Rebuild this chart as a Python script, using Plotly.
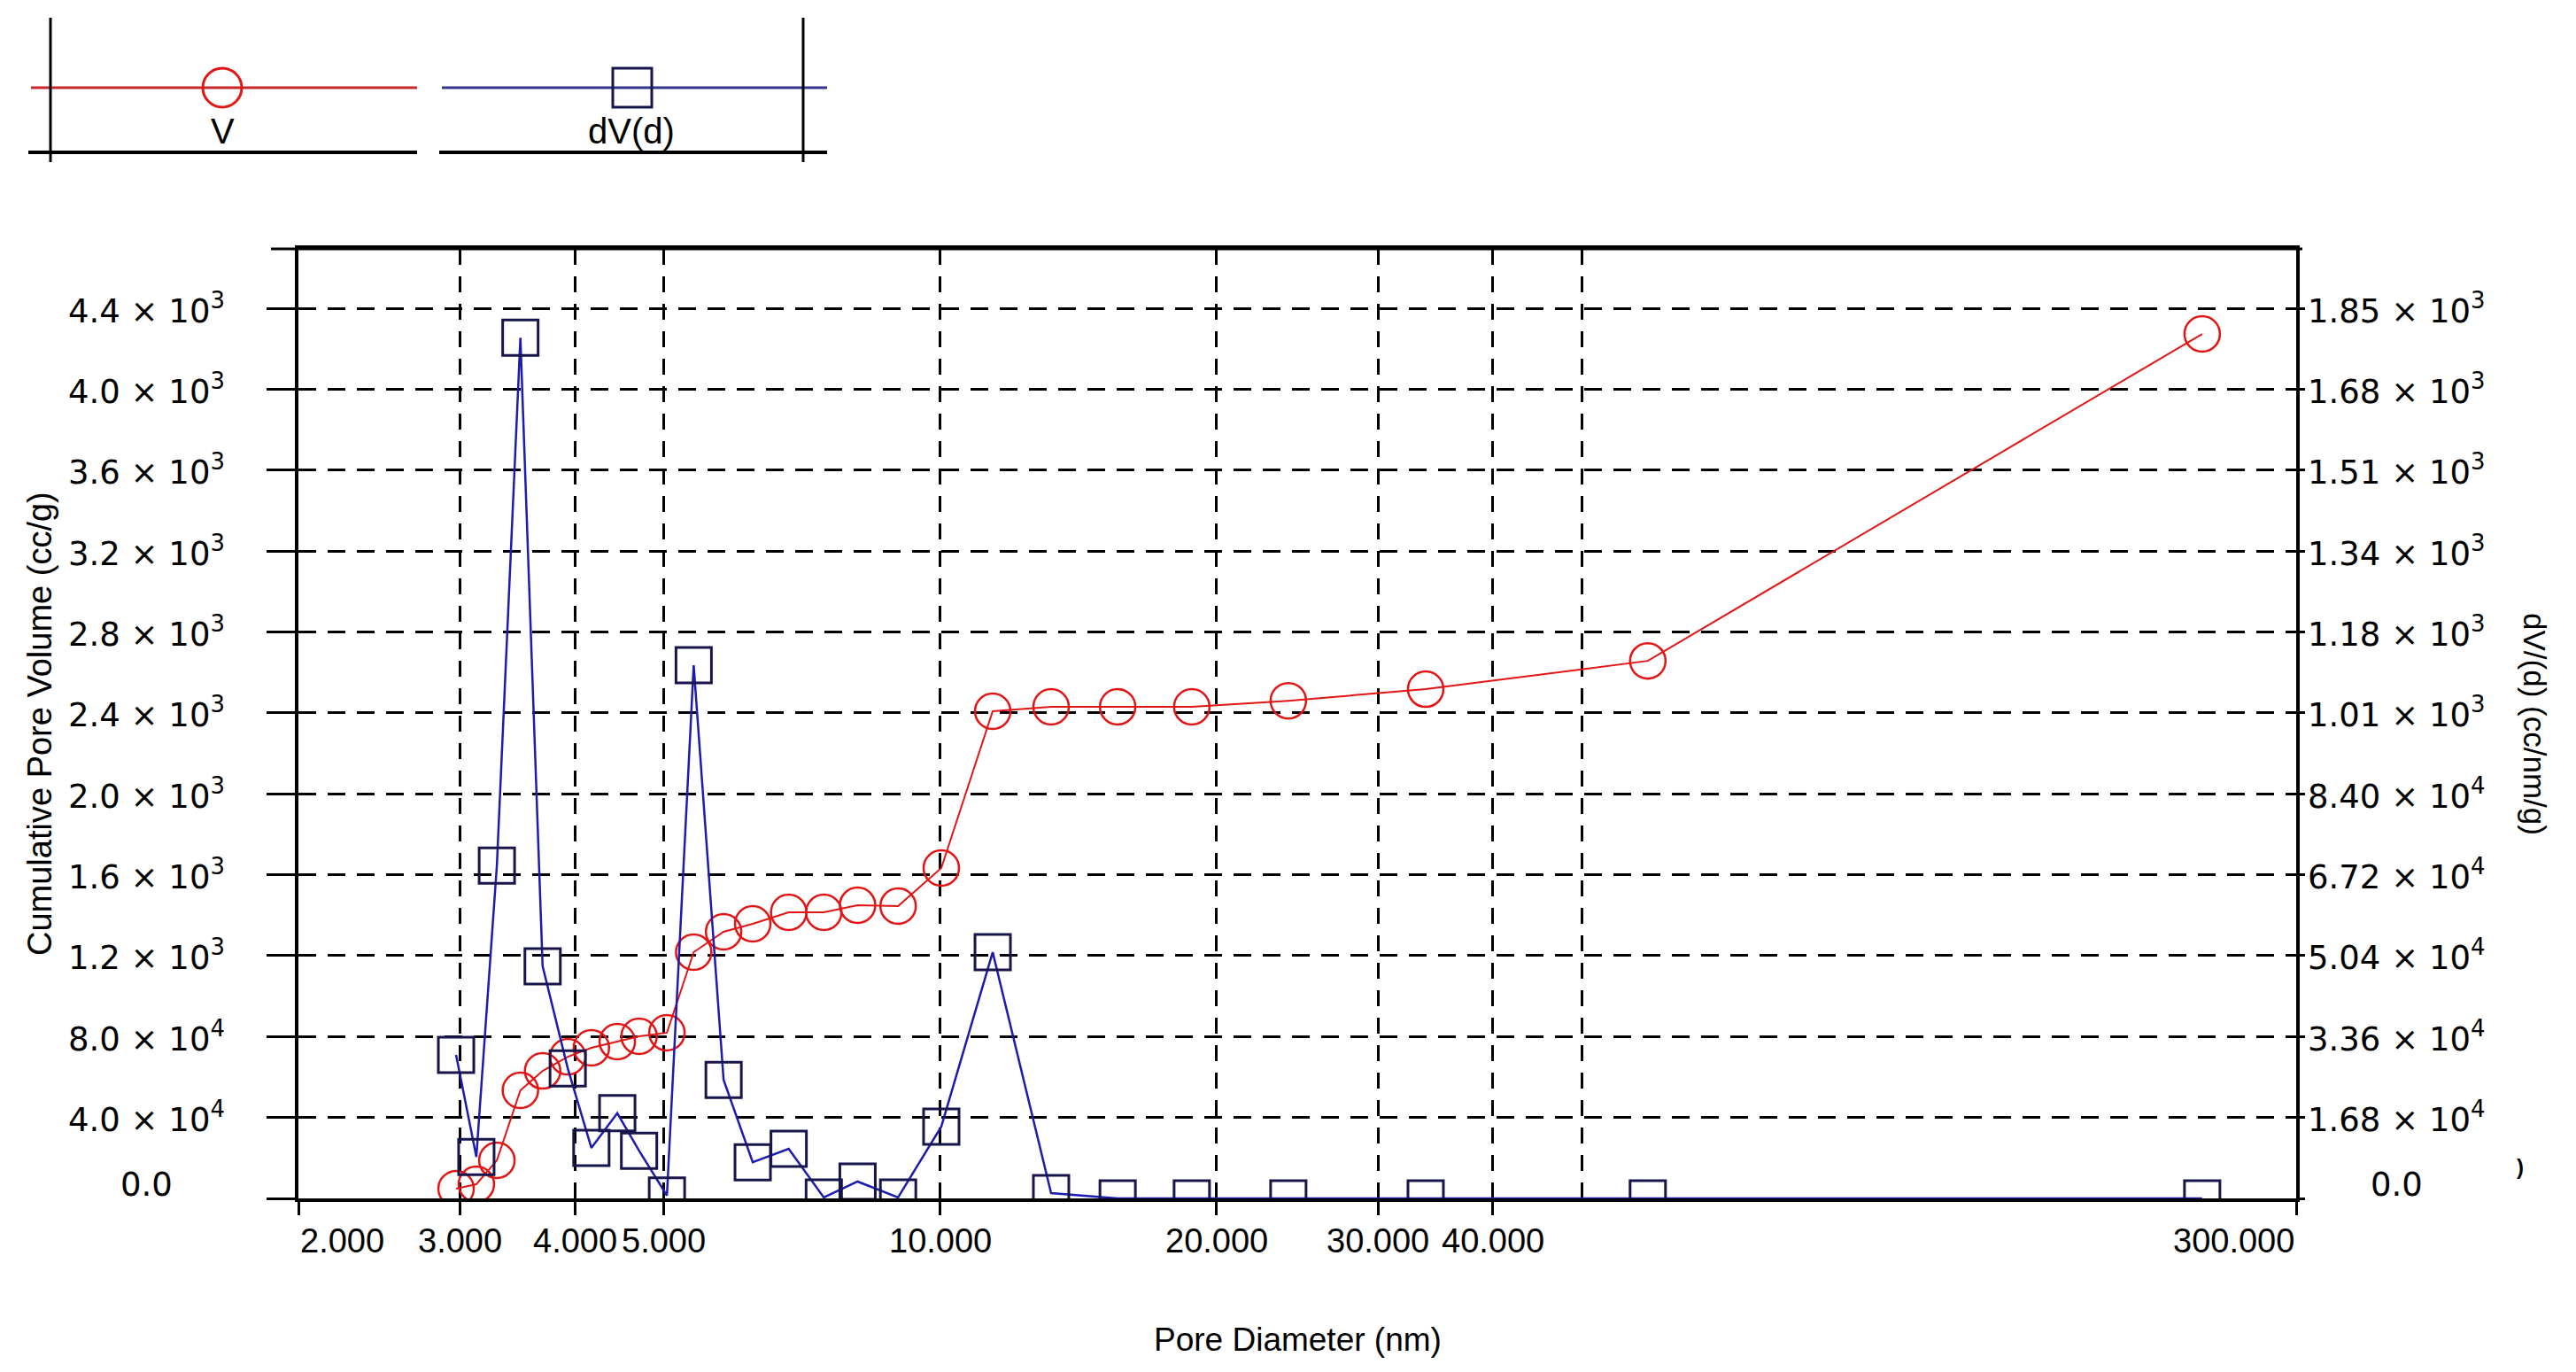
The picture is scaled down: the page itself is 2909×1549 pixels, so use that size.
import math
import plotly.graph_objects as go

# Pore size distribution
pore_diameter = [2.97, 3.125, 3.29, 3.49, 3.69, 3.93, 4.17, 4.45, 4.70, 5.04,
                 5.39, 5.81, 6.25, 6.84, 7.47, 8.13, 9.00, 10.03, 11.41, 13.21,
                 15.61, 18.80, 23.95, 33.8, 59.0, 237.0]
cum_volume = [48, 70, 188, 534, 630, 700, 744, 775, 801, 819,
              1217, 1318, 1357, 1414, 1414, 1449, 1445, 1633, 2408, 2430,
              2430, 2430, 2460, 2517, 2657, 4273]
dv_d = [298, 86, 691, 1787, 482, 270, 105, 177, 99, 6,
        1107, 246, 75, 103, 2, 35, 2, 149, 511, 11,
        0, 0, 0, 0, 0, 0]

x_tick_vals = [2, 3, 4, 5, 10, 20, 30, 40, 300]
x_tick_text = ["2.000", "3.000", "4.000", "5.000", "10.000", "20.000",
               "30.000", "40.000", "300.000"]
x_extra_grid = [50]

left_tick_vals = [0, 400, 800, 1200, 1600, 2000, 2400, 2800, 3200, 3600, 4000, 4400]
left_tick_text = ["0.0", "4.0 × 10<sup>4</sup>", "8.0 × 10<sup>4</sup>",
                  "1.2 × 10<sup>3</sup>", "1.6 × 10<sup>3</sup>", "2.0 × 10<sup>3</sup>",
                  "2.4 × 10<sup>3</sup>", "2.8 × 10<sup>3</sup>", "3.2 × 10<sup>3</sup>",
                  "3.6 × 10<sup>3</sup>", "4.0 × 10<sup>3</sup>", "4.4 × 10<sup>3</sup>"]
right_tick_vals = [0, 168, 336, 504, 672, 840, 1008, 1176, 1344, 1512, 1680, 1848]
right_tick_text = ["0.0", "1.68 × 10<sup>4</sup>", "3.36 × 10<sup>4</sup>",
                   "5.04 × 10<sup>4</sup>", "6.72 × 10<sup>4</sup>", "8.40 × 10<sup>4</sup>",
                   "1.01 × 10<sup>3</sup>", "1.18 × 10<sup>3</sup>", "1.34 × 10<sup>3</sup>",
                   "1.51 × 10<sup>3</sup>", "1.68 × 10<sup>3</sup>", "1.85 × 10<sup>3</sup>"]

RED = "#e31414"
BLUE = "#1c1cb0"
NAVY = "#16164c"

# page is 2909x1549, body has an 8px margin
W, H = 2893, 1533
PL, PT, PR, PB = 337, 281, 2593, 1353   # plot area in page pixels


def px(x):
    return (x - PL) / (PR - PL)


def py(y):
    return (PB - y) / (PB - PT)


fig = go.Figure()

fig.add_trace(go.Scatter(
    x=pore_diameter, y=cum_volume, name="V", mode="lines+markers",
    line=dict(color=RED, width=2),
    marker=dict(symbol="circle-open", size=40, color=RED, line=dict(width=2.5)),
    yaxis="y",
))
fig.add_trace(go.Scatter(
    x=pore_diameter, y=dv_d, name="dV(d)", mode="lines+markers",
    line=dict(color=BLUE, width=2.5),
    marker=dict(symbol="square-open", size=40, color=NAVY, line=dict(width=3)),
    yaxis="y2",
))

grid = dict(showgrid=True, gridcolor="black", gridwidth=3)

fig.update_layout(
    width=W, height=H,
    margin=dict(l=PL - 8, t=PT - 8, r=W - (PR - 8), b=H - (PB - 8)),
    paper_bgcolor="white", plot_bgcolor="white",
    showlegend=False,
    font=dict(family="Liberation Sans", color="black", size=38),
    xaxis=dict(
        type="log", range=[math.log10(2), math.log10(300)],
        tickmode="array", tickvals=x_tick_vals, showticklabels=False,
        ticks="outside", ticklen=15, tickwidth=3, tickcolor="black",
        showline=True, linewidth=4, linecolor="black", mirror=True,
        griddash="18px,13px", zeroline=False,
        minor=dict(tickmode="array", tickvals=x_extra_grid, ticks="",
                   showgrid=True, gridcolor="black", gridwidth=3, griddash="18px,13px"),
        **grid,
    ),
    yaxis=dict(
        range=[0, 4693.5], tickmode="array", tickvals=left_tick_vals,
        showticklabels=False, ticks="outside", ticklen=32, tickwidth=3,
        tickcolor="black", showline=True, linewidth=4, linecolor="black",
        griddash="20px,13px", zeroline=False, **grid,
    ),
    yaxis2=dict(
        overlaying="y", side="right", range=[0, 1971.3],
        tickmode="array", tickvals=right_tick_vals, showticklabels=False,
        ticks="outside", ticklen=6, tickwidth=3, tickcolor="black",
        showline=True, linewidth=4, linecolor="black",
        showgrid=False, zeroline=False,
    ),
)

tick_font = dict(family="DejaVu Sans", size=37, color="black")

# y tick labels, centred in their columns like the original
for v, t in zip(left_tick_vals, left_tick_text):
    fig.add_annotation(x=px(165), xref="paper", y=v, yref="y", text=t,
                       showarrow=False, xanchor="center", yanchor="middle",
                       yshift=16 if v == 0 else 0, font=tick_font)
for v, t in zip(right_tick_vals, right_tick_text):
    fig.add_annotation(x=px(2706), xref="paper", y=v, yref="y2", text=t,
                       showarrow=False, xanchor="center", yanchor="middle",
                       yshift=16 if v == 0 else 0, font=tick_font)

# x tick labels: first one left-aligned, last one right-aligned
for i, (v, t) in enumerate(zip(x_tick_vals, x_tick_text)):
    anchor = "left" if i == 0 else ("right" if i == len(x_tick_vals) - 1 else "center")
    fig.add_annotation(x=math.log10(v), xref="x", y=0, yref="paper", text=t,
                       showarrow=False, xanchor=anchor, yanchor="top", yshift=-25,
                       font=dict(family="Liberation Sans", size=38, color="black"))

# axis titles
fig.add_annotation(x=0.5, xref="paper", y=0, yref="paper", text="Pore Diameter (nm)",
                   showarrow=False, xanchor="center", yanchor="middle", yshift=-159,
                   font=dict(size=37))
fig.add_annotation(x=px(45), xref="paper", y=0.5, yref="paper",
                   text="Cumulative Pore Volume (cc/g)", textangle=-90,
                   showarrow=False, xanchor="center", yanchor="middle",
                   font=dict(size=38))
fig.add_annotation(x=px(2863), xref="paper", y=0.5, yref="paper",
                   text="dV/(d) (cc/nm/g)", textangle=90,
                   showarrow=False, xanchor="center", yanchor="middle",
                   font=dict(size=35))
fig.add_annotation(x=px(2852), xref="paper", y=py(1333), yref="paper", text="<b>)</b>",
                   showarrow=False, font=dict(size=24))

# top frame line runs a little past the left axis
fig.add_shape(type="line", xref="paper", yref="paper", x0=px(306), x1=px(2600),
              y0=1, y1=1, line=dict(color="black", width=3))

# hand-drawn legend box at the top left
def hline(x0, x1, y, color, width):
    fig.add_shape(type="line", xref="paper", yref="paper", x0=px(x0), x1=px(x1),
                  y0=py(y), y1=py(y), line=dict(color=color, width=width))


def vline(x, y0, y1):
    fig.add_shape(type="line", xref="paper", yref="paper", x0=px(x), x1=px(x),
                  y0=py(y0), y1=py(y1), line=dict(color="black", width=3))


hline(35, 471, 99, "#c62828", 3)
hline(499, 934, 99, "#34348c", 3)
hline(32, 471, 172, "black", 4)
hline(496, 934, 172, "black", 4)
vline(57, 20, 183)
vline(907, 20, 183)
fig.add_shape(type="circle", xref="paper", yref="paper",
              x0=px(229), x1=px(273), y0=py(121), y1=py(77),
              line=dict(color=RED, width=3))
fig.add_shape(type="rect", xref="paper", yref="paper",
              x0=px(692), x1=px(736), y0=py(121), y1=py(77),
              line=dict(color=NAVY, width=3))
fig.add_annotation(x=px(251), xref="paper", y=py(148), yref="paper", text="V",
                   showarrow=False, xanchor="center", yanchor="middle", font=dict(size=40))
fig.add_annotation(x=px(713), xref="paper", y=py(148), yref="paper", text="dV(d)",
                   showarrow=False, xanchor="center", yanchor="middle", font=dict(size=40))

fig.write_html("out.html")
